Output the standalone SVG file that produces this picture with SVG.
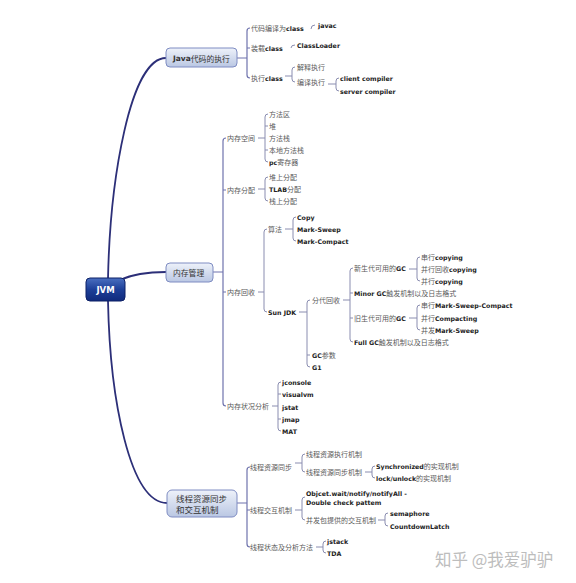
<svg xmlns="http://www.w3.org/2000/svg" width="576" height="583" viewBox="0 0 576 583">
<defs>
<linearGradient id="gl" x1="0" y1="0" x2="0" y2="1"><stop offset="0" stop-color="#eef2fa"/><stop offset="1" stop-color="#bac7e3"/></linearGradient>
<linearGradient id="gd" x1="0" y1="0" x2="0" y2="1"><stop offset="0" stop-color="#4a6fc0"/><stop offset="0.5" stop-color="#1d3f98"/><stop offset="1" stop-color="#102a7c"/></linearGradient>
<style>
.nb{fill:url(#gl);stroke:#7e8cc2;stroke-width:1}
.rb{fill:url(#gd);stroke:#0d2066;stroke-width:1}
.cv{fill:none;stroke:#2c2f78;stroke-width:1.8}
.st{fill:none;stroke:#6f73ad;stroke-width:1.2}
.br{fill:none;stroke:#8a8db0;stroke-width:1}
.t{font-family:"Noto Sans CJK SC","DejaVu Sans",sans-serif;font-size:7px;fill:#5a5a5a;dominant-baseline:central}
.b{font-family:"DejaVu Sans",sans-serif;font-weight:bold;font-size:6.3px;fill:#222}
.nt{font-family:"Noto Sans CJK SC","DejaVu Sans",sans-serif;font-size:7.8px;fill:#333;dominant-baseline:central}
.nlb{font-family:"DejaVu Sans",sans-serif;font-weight:bold;font-size:7.5px;fill:#333}
.rt{font-family:"DejaVu Sans",sans-serif;font-weight:bold;font-size:8.5px;fill:#fff;dominant-baseline:central}
.wm{font-family:"Noto Sans CJK SC",sans-serif;font-size:16.5px;fill:#bdbdbd;dominant-baseline:central}
</style>
</defs>
<rect width="576" height="583" fill="#fff"/>

<g id="connectors">
<path class="cv" d="M108 279 C110 180 130 58 166 58"/>
<path class="cv" d="M120 280 C135 273 150 272 166 272"/>
<path class="cv" d="M108 301 C110 400 130 503 167 503"/>

<!-- Java branch -->
<path class="st" d="M237 58 H247 M250 28 Q247 28 247 31 V75 Q247 78 250 78 M247 48 H250"/>
<path class="br" d="M311 29 Q311 25 315 25"/>
<path class="br" d="M291 48 Q291 45 295 45"/>
<path class="br" d="M285 76 H292 M295 67 Q292 67 292 70 V79 Q292 82 295 82"/>
<path class="br" d="M328 84 H336 M339 78 Q336 78 336 81 V88 Q336 91 339 91"/>

<!-- Memory branch -->
<path class="st" d="M213 272 H223 M226 138 Q223 138 223 141 V403 Q223 406 226 406 M223 190 H226 M223 292 H226"/>
<path class="br" d="M258 138 H265 M268 114 Q265 114 265 117 V159 Q265 162 268 162 M265 126 H268 M265 150 H268"/>
<path class="br" d="M258 189 H265 M268 177 Q265 177 265 180 V198 Q265 201 268 201"/>
<path class="br" d="M258 292 H264 M267 229 Q264 229 264 232 V309 Q264 312 267 312"/>
<path class="br" d="M285 229 H293 M296 217 Q293 217 293 220 V238 Q293 241 296 241"/>
<path class="br" d="M299 312 H307 M310 300 Q307 300 307 303 V364 Q307 367 310 367 M307 355 H310"/>
<path class="br" d="M343 300 H350 M353 268 Q350 268 350 271 V339 Q350 342 353 342 M350 293 H353 M350 318 H353"/>
<path class="br" d="M409 269 H417 M420 257 Q417 257 417 260 V278 Q417 281 420 281"/>
<path class="br" d="M409 318 H417 M420 305 Q417 305 417 308 V327 Q417 330 420 330"/>
<path class="br" d="M272 406 H278 M281 382 Q278 382 278 385 V428 Q278 431 281 431 M278 394 H281 M278 419 H281"/>

<!-- Thread branch -->
<path class="st" d="M237 503 H247 M250 467 Q247 467 247 470 V544 Q247 547 250 547 M247 510 H250"/>
<path class="br" d="M295 463 H302 M305 454 Q302 454 302 457 V469 Q302 472 305 472"/>
<path class="br" d="M365 472 H372 M375 466 Q372 466 372 469 V475 Q372 478 375 478"/>
<path class="br" d="M295 510 H302 M305 497 Q302 497 302 500 V517 Q302 520 305 520"/>
<path class="br" d="M378 520 H385 M388 513 Q385 513 385 516 V523 Q385 526 388 526"/>
<path class="br" d="M316 547 H323 M326 541 Q323 541 323 544 V550 Q323 553 326 553"/>
</g>

<g id="jvm">
<rect class="rb" x="86" y="278" width="39" height="23" rx="4"/>
<text class="rt" x="105.5" y="290" text-anchor="middle">JVM</text>
</g>

<g id="java">
<rect class="nb" x="166" y="48" width="71" height="19" rx="4"/>
<text class="nt" x="173" y="58"><tspan class="nlb">Java</tspan>代码的执行</text>
<text class="t" x="251" y="28">代码编译为<tspan class="b">class</tspan></text>
<text class="t b" x="318" y="25">javac</text>
<text class="t" x="251" y="48">装载<tspan class="b">class</tspan></text>
<text class="t b" x="297" y="45">ClassLoader</text>
<text class="t" x="251" y="78">执行<tspan class="b">class</tspan></text>
<text class="t" x="297" y="67">解释执行</text>
<text class="t" x="297" y="82">编译执行</text>
<text class="t b" x="340" y="78">client compiler</text>
<text class="t b" x="340" y="91">server compiler</text>
</g>

<g id="mem">
<rect class="nb" x="166" y="263" width="47" height="19" rx="4"/>
<text class="nt" x="173" y="272">内存管理</text>
<text class="t" x="227" y="138">内存空间</text>
<text class="t" x="269" y="114">方法区</text>
<text class="t" x="269" y="126">堆</text>
<text class="t" x="269" y="138">方法栈</text>
<text class="t" x="269" y="150">本地方法栈</text>
<text class="t" x="269" y="162"><tspan class="b">pc</tspan>寄存器</text>
<text class="t" x="227" y="190">内存分配</text>
<text class="t" x="269" y="177">堆上分配</text>
<text class="t" x="269" y="189"><tspan class="b">TLAB</tspan>分配</text>
<text class="t" x="269" y="201">栈上分配</text>
<text class="t" x="227" y="292">内存回收</text>
<text class="t" x="268" y="229">算法</text>
<text class="t b" x="297" y="217">Copy</text>
<text class="t b" x="297" y="229">Mark-Sweep</text>
<text class="t b" x="297" y="241">Mark-Compact</text>
<text class="t b" x="268" y="312">Sun JDK</text>
<text class="t" x="312" y="300">分代回收</text>
<text class="t" x="354" y="268">新生代可用的<tspan class="b">GC</tspan></text>
<text class="t" x="421" y="257">串行<tspan class="b">copying</tspan></text>
<text class="t" x="421" y="269">并行回收<tspan class="b">copying</tspan></text>
<text class="t" x="421" y="281">并行<tspan class="b">copying</tspan></text>
<text class="t" x="354" y="293"><tspan class="b">Minor GC</tspan>触发机制以及日志格式</text>
<text class="t" x="354" y="318">旧生代可用的<tspan class="b">GC</tspan></text>
<text class="t" x="421" y="305">串行<tspan class="b">Mark-Sweep-Compact</tspan></text>
<text class="t" x="421" y="318">并行<tspan class="b">Compacting</tspan></text>
<text class="t" x="421" y="330">并发<tspan class="b">Mark-Sweep</tspan></text>
<text class="t" x="354" y="342"><tspan class="b">Full GC</tspan>触发机制以及日志格式</text>
<text class="t" x="312" y="355"><tspan class="b">GC</tspan>参数</text>
<text class="t b" x="312" y="367">G1</text>
<text class="t" x="227" y="406">内存状况分析</text>
<text class="t b" x="282" y="382">jconsole</text>
<text class="t b" x="282" y="394">visualvm</text>
<text class="t b" x="282" y="407">jstat</text>
<text class="t b" x="282" y="419">jmap</text>
<text class="t b" x="282" y="431">MAT</text>
</g>

<g id="thread">
<rect class="nb" x="167" y="490" width="70" height="27" rx="5"/>
<text class="nt" x="176" y="498" style="font-size:8.5px">线程资源同步</text>
<text class="nt" x="176" y="509" style="font-size:8.5px">和交互机制</text>
<text class="t" x="250" y="467">线程资源同步</text>
<text class="t" x="306" y="454">线程资源执行机制</text>
<text class="t" x="306" y="472">线程资源同步机制</text>
<text class="t" x="376" y="466"><tspan class="b">Synchronized</tspan>的实现机制</text>
<text class="t" x="376" y="478"><tspan class="b">lock/unlock</tspan>的实现机制</text>
<text class="t" x="250" y="510">线程交互机制</text>
<text class="t b" x="306" y="493">Objcet.wait/notify/notifyAll -</text>
<text class="t b" x="306" y="502">Double check pattem</text>
<text class="t" x="306" y="520">并发包提供的交互机制</text>
<text class="t b" x="390" y="513">semaphore</text>
<text class="t b" x="390" y="526">CountdownLatch</text>
<text class="t" x="250" y="547">线程状态及分析方法</text>
<text class="t b" x="327" y="541">jstack</text>
<text class="t b" x="327" y="553">TDA</text>
</g>

<text class="wm" x="435" y="559">知乎 @我爱驴驴</text>
</svg>
